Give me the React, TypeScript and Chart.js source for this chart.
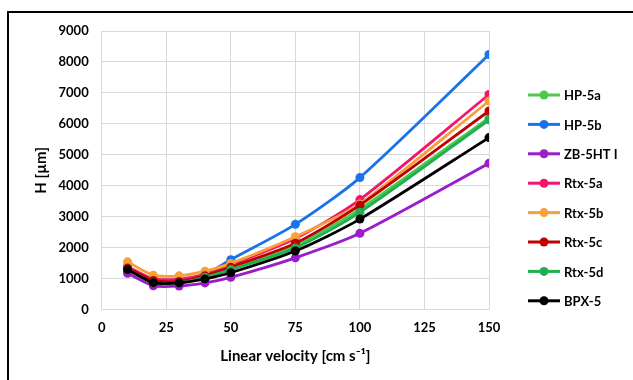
import React, { useEffect, useRef } from "react";
import { Chart, registerables } from "chart.js";

Chart.register(...registerables);

const velocities = [10, 20, 30, 40, 50, 75, 100, 150];
const seriesNames = ["HP-5a", "HP-5b", "ZB-5HT I", "Rtx-5a", "Rtx-5b", "Rtx-5c", "Rtx-5d", "BPX-5"];
const seriesColors = ["#4cc94c", "#1a73e8", "#9a1ccb", "#f2166e", "#f7a03a", "#c00000", "#1fae50", "#000000"];
const hp5a = [1300, 900, 880, 1050, 1320, 2080, 3250, 6200];
const hp5b = [1350, 950, 950, 1150, 1620, 2760, 4270, 8240];
const zb5ht = [1180, 780, 770, 870, 1050, 1680, 2470, 4730];
const rtx5a = [1400, 1000, 1000, 1150, 1450, 2300, 3560, 6950];
const rtx5b = [1550, 1120, 1100, 1250, 1500, 2360, 3420, 6740];
const rtx5c = [1350, 950, 920, 1100, 1380, 2150, 3380, 6420];
const rtx5d = [1300, 880, 870, 1050, 1300, 2000, 3150, 6130];
const bpx5 = [1300, 880, 870, 1000, 1200, 1900, 2930, 5560];
const seriesValues = [hp5a, hp5b, zb5ht, rtx5a, rtx5b, rtx5c, rtx5d, bpx5];
const xTitle = "Linear velocity [cm s\u207B\u00B9]";
const yTitle = "H [\u00B5m]";

const FONT = "Lato, 'Open Sans', sans-serif";

const legendPlugin = {
  id: "sideLegend",
  afterDraw(chart: any) {
    const ctx = chart.ctx;
    ctx.save();
    const x0 = 528;
    const x1 = 560;
    const startY = 95;
    const step = 29.4;
    chart.data.datasets.forEach((ds: any, i: number) => {
      const y = startY + i * step;
      ctx.strokeStyle = ds.borderColor;
      ctx.lineWidth = 3;
      ctx.beginPath();
      ctx.moveTo(x0, y);
      ctx.lineTo(x1, y);
      ctx.stroke();
      ctx.fillStyle = ds.borderColor;
      ctx.beginPath();
      ctx.arc((x0 + x1) / 2, y, 4.5, 0, Math.PI * 2);
      ctx.fill();
      ctx.fillStyle = "#000";
      ctx.font = `bold 13px ${FONT}`;
      ctx.textBaseline = "middle";
      ctx.textAlign = "left";
      ctx.fillText(ds.label, x1 + 4, y + 1);
    });
    ctx.restore();
  },
};

export default function App() {
  const ref = useRef<HTMLCanvasElement | null>(null);
  useEffect(() => {
    if (!ref.current) return;
    const datasets = seriesNames.map((name, i) => ({
      label: name,
      data: velocities.map((v, j) => ({ x: v, y: seriesValues[i][j] })),
      borderColor: seriesColors[i],
      backgroundColor: seriesColors[i],
      borderWidth: 2.8,
      pointRadius: 4.5,
      pointBorderWidth: 0,
      tension: 0.25,
      order: seriesNames.length - i,
    }));
    const chart = new Chart(ref.current, {
      type: "line",
      data: { datasets },
      options: {
        responsive: false,
        animation: false,
        layout: { padding: { top: 31, right: 144, left: 31.7, bottom: 15 } },
        plugins: { legend: { display: false }, tooltip: { enabled: false } },
        scales: {
          x: {
            type: "linear",
            min: 0,
            max: 150,
            ticks: { stepSize: 25, color: "#000", padding: 10, font: { family: FONT, size: 13, weight: "bold" }, callback: (v: any) => String(v) },
            grid: { color: "#d9d9d9", drawTicks: false, lineWidth: 1 },
            border: { color: "#d9d9d9" },
            title: { display: true, text: xTitle, color: "#000", padding: { top: 1.5, bottom: 0 }, font: { family: FONT, size: 15, weight: "bold" } },
          },
          y: {
            min: 0,
            max: 9000,
            afterFit: (scale: any) => {
              scale.width = 70;
            },
            ticks: { stepSize: 1000, color: "#000", padding: 13, font: { family: FONT, size: 13, weight: "bold" }, callback: (v: any) => String(v) },
            grid: { color: "#d9d9d9", drawTicks: false, lineWidth: 1 },
            border: { color: "#d9d9d9" },
            title: { display: true, text: yTitle, color: "#000", padding: { top: 0, bottom: 10 }, font: { family: FONT, size: 15, weight: "bold" } },
          },
        },
      },
      plugins: [legendPlugin],
    });
    return () => chart.destroy();
  }, []);
  return (
    <div>
      <div
        style={{
          position: "absolute",
          left: 7,
          top: 11,
          width: 660,
          height: 400,
          border: "2.5px solid #000",
          boxSizing: "border-box",
        }}
      />
      <canvas
        ref={ref}
        width={633}
        height={380}
        style={{ position: "absolute", left: 0, top: 0, width: 633, height: 380 }}
      />
    </div>
  );
}
